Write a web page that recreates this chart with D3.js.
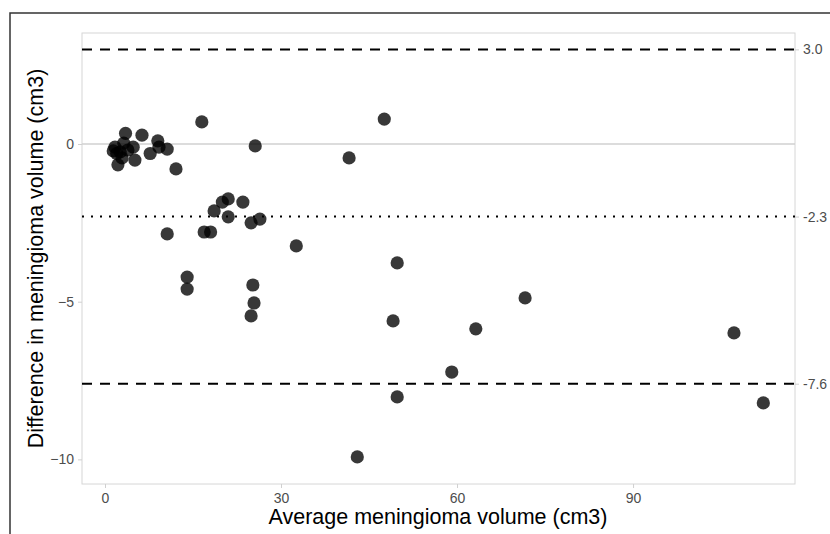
<!DOCTYPE html>
<html><head><meta charset="utf-8">
<script src="https://cdn.jsdelivr.net/npm/d3@7"></script>
<style>body{margin:0;background:#fff;} svg{display:block;}</style>
</head><body>
<svg id="c" width="830" height="534"></svg>
<script>
const avgVolume = [1.4,1.7,2.0,2.2,2.6,2.9,3.2,3.5,3.9,4.8,5.1,6.3,7.7,9.0,9.2,10.6,12.1,
  16.5,47.6,25.6,41.6,10.6,16.9,18.0,18.6,20.0,21.0,21.0,23.5,24.9,26.4,32.6,14.0,14.0,25.2,25.4,24.9,49.8,49.1,71.6,59.1,49.8,63.2,107.2,112.2,43.0];
const diffVolume = [-0.22,-0.1,-0.3,-0.66,-0.25,-0.44,0.03,0.34,-0.19,-0.1,-0.51,0.28,-0.3,0.1,-0.1,-0.16,-0.79,
  0.70,0.79,-0.06,-0.44,-2.85,-2.79,-2.79,-2.12,-1.84,-1.74,-2.31,-1.84,-2.50,-2.38,-3.23,-4.22,-4.6,-4.47,-5.04,-5.45,-3.77,-5.61,-4.88,-7.23,-8.02,-5.86,-5.99,-8.21,-9.92];
const xTicks = [0,30,60,90];
const yTicks = [0,-5,-10];
const limitValues = [3.0,-2.3,-7.6];
const limitLabels = ["3.0","-2.3","-7.6"];
const limitStyles = ["dashed","dotted","dashed"];

const svg = d3.select("#c");
const L=82,R=795,T=33,B=484;
const x = d3.scaleLinear().domain([-3.92,117.6]).range([L,R]);
const y = d3.scaleLinear().domain([-10.78,3.52]).range([B,T]);
const font = "'Liberation Sans', Arial, sans-serif";

// outer border
svg.append("rect").attr("x",10).attr("y",13).attr("width",900).attr("height",600)
  .attr("fill","none").attr("stroke","#333").attr("stroke-width",1.5);

// panel
svg.append("rect").attr("x",L).attr("y",T).attr("width",R-L).attr("height",B-T)
  .attr("fill","#fff").attr("stroke","#d6d6d6").attr("stroke-width",1);

// zero line
svg.append("line").attr("x1",L).attr("x2",R).attr("y1",y(0)).attr("y2",y(0))
  .attr("stroke","#d0d0d0").attr("stroke-width",1.5);

// points
svg.append("g").selectAll("circle").data(avgVolume.map((v,i)=>[v,diffVolume[i]]))
  .join("circle").attr("cx",d=>x(d[0])).attr("cy",d=>y(d[1])).attr("r",6.6)
  .attr("fill","#000").attr("fill-opacity",0.78);

// limit lines
limitValues.forEach((v,i)=>{
  svg.append("line").attr("x1",L).attr("x2",R).attr("y1",y(v)).attr("y2",y(v))
    .attr("stroke","#000").attr("stroke-width",2)
    .attr("stroke-dasharray", limitStyles[i]==="dashed" ? "10,8" : "2,7");
});

// axes
const xAxis = d3.axisBottom(x).tickValues(xTicks).tickSize(4).tickPadding(5);
const gx = svg.append("g").attr("transform",`translate(0,${B})`).call(xAxis);
const yAxis = d3.axisLeft(y).tickValues(yTicks).tickSize(4).tickPadding(4);
const gy = svg.append("g").attr("transform",`translate(${L},0)`).call(yAxis);
const yAxisR = d3.axisRight(y).tickValues(limitValues).tickFormat((d,i)=>limitLabels[i]).tickSize(4).tickPadding(4);
const gr = svg.append("g").attr("transform",`translate(${R},0)`).call(yAxisR);
[gx,gy,gr].forEach(g=>{
  g.select(".domain").remove();
  g.selectAll(".tick line").attr("stroke","#d0d0d0");
  g.selectAll(".tick text").attr("fill","#4d4d4d").style("font-family",font).style("font-size","14px");
});

// titles
svg.append("text").attr("x",438).attr("y",524).attr("text-anchor","middle")
  .style("font-family",font).style("font-size","21.5px").attr("fill","#000")
  .text("Average meningioma volume (cm3)");
svg.append("text").attr("transform",`translate(43,${(T+B)/2}) rotate(-90)`).attr("text-anchor","middle")
  .style("font-family",font).style("font-size","21.5px").attr("fill","#000")
  .text("Difference in meningioma volume (cm3)");
</script>
</body></html>
